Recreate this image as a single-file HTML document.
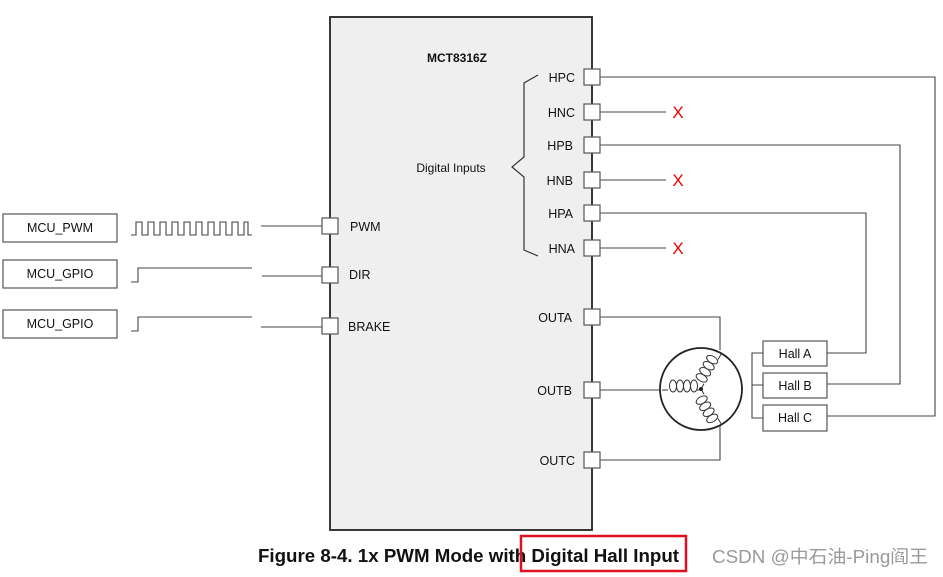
<!DOCTYPE html>
<html><head><meta charset="utf-8"><style>
body{margin:0;background:#fff;width:943px;height:577px;overflow:hidden}
svg{display:block}
text{font-family:"Liberation Sans",Arial,sans-serif;fill:#111}
</style></head><body>
<svg width="943" height="577" viewBox="0 0 943 577">
<rect x="330" y="17" width="262" height="513" fill="#efefef" stroke="#222" stroke-width="1.8"/>
<text x="457" y="62" font-size="12" font-weight="bold" text-anchor="middle">MCT8316Z</text>
<text x="451" y="172" font-size="12" text-anchor="middle">Digital Inputs</text>
<path d="M538,75 L524,83 L524,157 L512,167 L524,177 L524,250 L538,256" fill="none" stroke="#333" stroke-width="1.2"/>
<g font-size="12.5" text-anchor="end">
<text x="575" y="82">HPC</text><text x="575" y="117">HNC</text><text x="573" y="150">HPB</text>
<text x="573" y="185">HNB</text><text x="573" y="218">HPA</text><text x="575" y="253">HNA</text>
<text x="572" y="322">OUTA</text><text x="572" y="395">OUTB</text><text x="575" y="465">OUTC</text>
</g>
<g font-size="12.5"><text x="350" y="231">PWM</text><text x="349" y="279">DIR</text><text x="348" y="331">BRAKE</text></g>
<g fill="none" stroke="#444" stroke-width="1.1">
<path d="M599,77H935V416H827"/><path d="M599,145H900V384H827"/><path d="M599,213H866V353H827"/>
<path d="M599,112H666M599,180H666M599,248H666"/>
<path d="M763,353H752V418H763M752,385H763"/>
<path d="M599,317H720V350M599,460H720V426M599,390H662"/>
<path d="M261,226H323M262,276H323M261,327H323"/>
<path d="M131,235H136V222H142V235H148V222H154V235H160V222H166V235H172V222H178V235H184V222H190V235H196V222H202V235H208V222H214V235H220V222H226V235H232V222H238V235H244V222H248V235H252"/>
<path d="M131,282H138V268H252M131,331H138V317H252"/>
</g>
<g fill="#fff" stroke="#555" stroke-width="1.2">
<rect x="584" y="69" width="16" height="16"/><rect x="584" y="104" width="16" height="16"/>
<rect x="584" y="137" width="16" height="16"/><rect x="584" y="172" width="16" height="16"/>
<rect x="584" y="205" width="16" height="16"/><rect x="584" y="240" width="16" height="16"/>
<rect x="584" y="309" width="16" height="16"/><rect x="584" y="382" width="16" height="16"/>
<rect x="584" y="452" width="16" height="16"/>
<rect x="322" y="218" width="16" height="16"/><rect x="322" y="267" width="16" height="16"/>
<rect x="322" y="318" width="16" height="16"/>
<rect x="3" y="214" width="114" height="28"/><rect x="3" y="260" width="114" height="28"/><rect x="3" y="310" width="114" height="28"/>
<rect x="763" y="341" width="64" height="25"/><rect x="763" y="373" width="64" height="25"/><rect x="763" y="405" width="64" height="26"/>
</g>
<g font-size="12.5" text-anchor="middle">
<text x="60" y="232">MCU_PWM</text><text x="60" y="278">MCU_GPIO</text><text x="60" y="328">MCU_GPIO</text>
<text x="795" y="358">Hall A</text><text x="795" y="390">Hall B</text><text x="795" y="422">Hall C</text>
</g>
<g font-size="17" text-anchor="middle"><text x="678" y="118" style="fill:#e00">X</text><text x="678" y="186" style="fill:#e00">X</text><text x="678" y="254" style="fill:#e00">X</text></g>
<circle cx="701" cy="389" r="41" fill="#fff" stroke="#222" stroke-width="1.8"/>
<g fill="none" stroke="#333" stroke-width="1">
<path d="M662,390H668"/>
<ellipse cx="673" cy="386" rx="3.5" ry="6"/><ellipse cx="680" cy="386" rx="3.5" ry="6"/><ellipse cx="687" cy="386" rx="3.5" ry="6"/><ellipse cx="694" cy="386" rx="3.5" ry="6"/>
<path d="M697,390H701"/>
<g transform="rotate(-60 701 389)"><ellipse cx="711" cy="384" rx="3.5" ry="6"/><ellipse cx="718" cy="384" rx="3.5" ry="6"/><ellipse cx="725" cy="384" rx="3.5" ry="6"/><ellipse cx="732" cy="384" rx="3.5" ry="6"/><path d="M701,389H707M735,389H741"/></g>
<g transform="rotate(60 701 389)"><ellipse cx="711" cy="394" rx="3.5" ry="6"/><ellipse cx="718" cy="394" rx="3.5" ry="6"/><ellipse cx="725" cy="394" rx="3.5" ry="6"/><ellipse cx="732" cy="394" rx="3.5" ry="6"/><path d="M701,389H707M735,389H741"/></g>
</g>
<circle cx="701" cy="389" r="2" fill="#222"/>
<text x="258" y="562" font-size="18" font-weight="bold" textLength="421" lengthAdjust="spacingAndGlyphs">Figure 8-4. 1x PWM Mode with Digital Hall Input</text>
<rect x="521" y="536" width="165" height="35" fill="none" stroke="#e01020" stroke-width="2.5"/>
<text x="712" y="563" font-size="18" textLength="216" lengthAdjust="spacingAndGlyphs" style="fill:#999;font-family:'Liberation Sans','Noto Sans CJK SC',sans-serif">CSDN @中石油-Ping阎王</text>
</svg>
</body></html>
